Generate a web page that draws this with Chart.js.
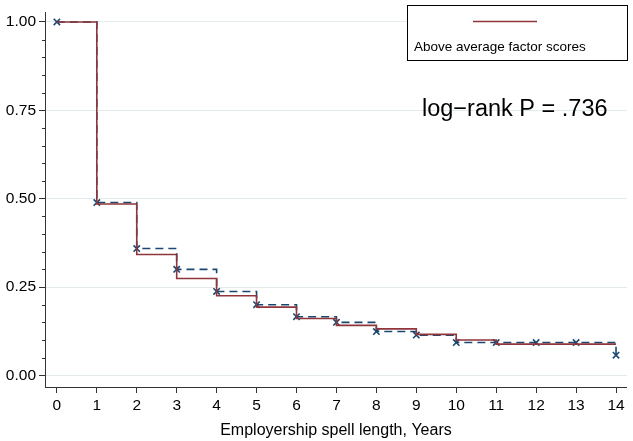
<!DOCTYPE html>
<html>
<head>
<meta charset="utf-8">
<script src="https://cdn.jsdelivr.net/npm/chart.js@4/dist/chart.umd.min.js"></script>
<style>
html,body{margin:0;padding:0;background:#fff;}
#wrap{width:633px;height:441px;position:relative;}
</style>
</head>
<body>
<div id="wrap"><canvas id="c" width="633" height="441"></canvas></div>
<script>
// ---- data ----
const years = [0,1,2,3,4,5,6,7,8,9,10,11,12,13,14];
const aboveValues = [1.000,0.485,0.342,0.274,0.2255,0.193,0.161,0.1415,0.1315,0.116,0.100,0.0885,0.0885,0.0885,0.0885];
const belowValues = [1.000,0.489,0.359,0.300,0.2375,0.200,0.166,0.150,0.124,0.114,0.093,0.093,0.093,0.093,0.057];
const seriesLabels = ['Below average factor scores','Above average factor scores'];
const xTickValues = [0,1,2,3,4,5,6,7,8,9,10,11,12,13,14];
const yTickValues = [0,0.25,0.5,0.75,1];
const yMinorTickValues = [0.05,0.1,0.15,0.2,0.3,0.35,0.4,0.45,0.55,0.6,0.65,0.7,0.8,0.85,0.9,0.95];
const xAxisTitle = 'Employership spell length, Years';
const annotationText = 'log\u2212rank P = .736';

const NAVY = '#1a476f';
const MAROON = '#90353b';
const FONT = "'Liberation Sans', Arial, Helvetica, sans-serif";

const pts = vals => years.map((x,i)=>({x:x, y:vals[i]}));

const extras = {
  id:'extras',
  afterDraw(chart){
    const ctx = chart.ctx;
    const ys = chart.scales.y;
    const left = chart.chartArea.left;
    ctx.save();
    // minor y ticks
    ctx.strokeStyle = '#333';
    ctx.lineWidth = 1;
    yMinorTickValues.forEach(v=>{
      const py = Math.round(ys.getPixelForValue(v)) + 0.5;
      ctx.beginPath();
      ctx.moveTo(left-3, py);
      ctx.lineTo(left, py);
      ctx.stroke();
    });
    // legend box
    ctx.fillStyle = '#fff';
    ctx.fillRect(407.5, 5.5, 220, 55);
    ctx.strokeStyle = '#000';
    ctx.lineWidth = 1;
    ctx.strokeRect(407.5, 5.5, 220, 55);
    ctx.strokeStyle = MAROON;
    ctx.lineWidth = 1.5;
    ctx.beginPath();
    ctx.moveTo(473, 21.5);
    ctx.lineTo(537, 21.5);
    ctx.stroke();
    ctx.fillStyle = '#000';
    ctx.font = '13.5px ' + FONT;
    ctx.textBaseline = 'alphabetic';
    ctx.textAlign = 'left';
    ctx.fillText(seriesLabels[1], 414, 51);
    // annotation
    ctx.font = '23.5px ' + FONT;
    ctx.fillText(annotationText, 422, 116);
    ctx.restore();
  }
};

new Chart(document.getElementById('c'), {
  type:'line',
  data:{
    datasets:[
      {
        label: seriesLabels[1],
        data: pts(aboveValues),
        borderColor: MAROON,
        borderWidth: 1.6,
        stepped: 'before',
        pointRadius: 0,
        fill:false,
        order: 0
      },
      {
        label: seriesLabels[0],
        data: pts(belowValues),
        borderColor: NAVY,
        borderWidth: 1.6,
        borderDash:[8,5],
        stepped: 'before',
        pointStyle:'crossRot',
        pointRadius: 4.5,
        pointBorderWidth: 1.6,
        pointBorderColor: NAVY,
        pointBackgroundColor: NAVY,
        fill:false,
        order: 1
      }
    ]
  },
  options:{
    responsive:false,
    animation:false,
    devicePixelRatio:1,
    layout:{padding:0},
    plugins:{legend:{display:false}, tooltip:{enabled:false}, title:{display:false}},
    scales:{
      x:{
        type:'linear',
        min:-0.2973, max:14.2726,
        afterBuildTicks: s => { s.ticks = xTickValues.map(v=>({value:v})); },
        afterFit: s => { s.height = 54; },
        ticks:{ color:'#000', font:{family:FONT, size:15.5}, padding:3, autoSkip:false, maxRotation:0,
                callback: v => String(v) },
        grid:{ drawOnChartArea:false, tickLength:6, tickColor:'#333', color:'#333' },
        border:{ display:true, color:'#333', width:1 },
        title:{ display:true, text:xAxisTitle, color:'#000', font:{family:FONT, size:16}, padding:{top:0,bottom:1} }
      },
      y:{
        type:'linear',
        min:-0.03288, max:1.0274,
        afterBuildTicks: s => { s.ticks = yTickValues.map(v=>({value:v})); },
        afterFit: s => { s.width = 45; },
        ticks:{ color:'#000', font:{family:FONT, size:15.5}, padding:3, callback: v => Number(v).toFixed(2) },
        grid:{ drawOnChartArea:true, color:'#e3ebeb', lineWidth:1, tickLength:6, tickColor:'#333' },
        border:{ display:true, color:'#333', width:1 }
      }
    }
  },
  plugins:[extras]
});
</script>
</body>
</html>
